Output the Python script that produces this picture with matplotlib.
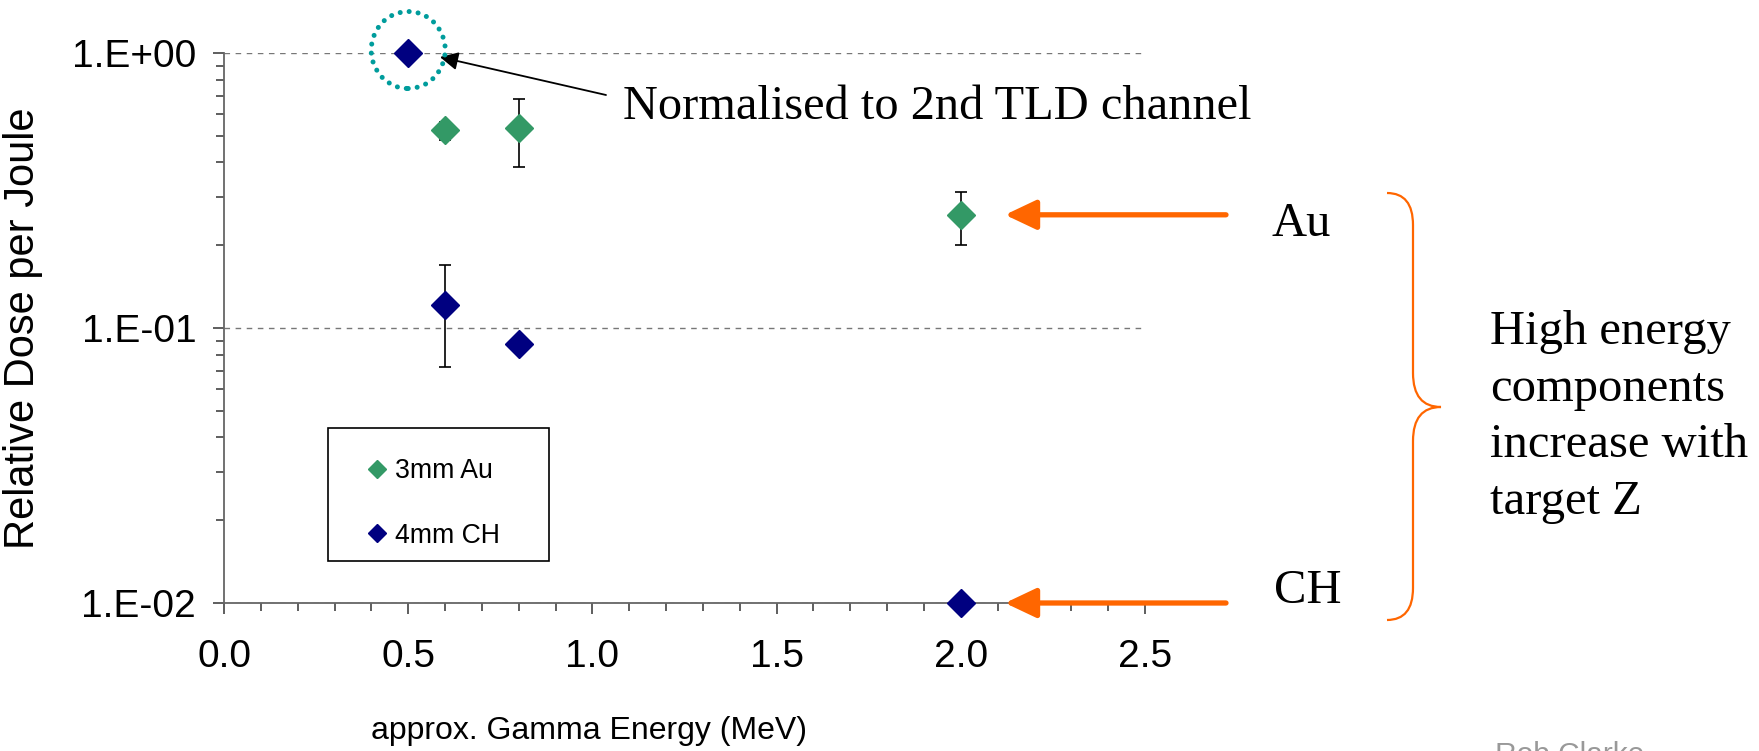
import numpy as np
import matplotlib
matplotlib.use("Agg")
import matplotlib.pyplot as plt
from matplotlib import ticker, transforms
from matplotlib.patches import Ellipse, PathPatch, Rectangle
from matplotlib.path import Path

# measured relative dose per joule vs approximate gamma energy
energy_au = [0.6, 0.8, 2.0]
dose_au = [0.525, 0.532, 0.258]
au_err_lo = [0.042, 0.146, 0.057]
au_err_hi = [0.036, 0.148, 0.053]

energy_ch = [0.5, 0.6, 0.8, 2.0]
dose_ch = [1.0, 0.121, 0.0875, 0.01]
ch_err_lo = [0.0, 0.049, 0.0, 0.0009]
ch_err_hi = [0.0, 0.0485, 0.0, 0.0]

labels = ["3mm Au", "4mm CH"]
x_ticks = [0.0, 0.5, 1.0, 1.5, 2.0, 2.5]
y_ticks = [0.01, 0.1, 1.0]

SANS = "Liberation Sans"
SERIF = "Liberation Serif"
GREEN = "#339966"
NAVY = "#000080"
ORANGE = "#ff6600"

W, H = 1759, 751
fig = plt.figure(figsize=(W / 100, H / 100), dpi=100)
ax = fig.add_axes([224 / W, 1 - 603 / H, 921 / W, 550 / H])


def fpx(x, y):
    # pixel position measured from the top-left corner -> figure pixels
    return (x, H - y)


ax.set_yscale("log")
ax.set_xlim(0, 2.5)
ax.set_ylim(0.01, 1.0)

ax.errorbar(energy_au, dose_au, yerr=[au_err_lo, au_err_hi], fmt="none",
            ecolor="black", elinewidth=1.2, capsize=4, capthick=1.2, zorder=2)
ax.errorbar(energy_ch, dose_ch, yerr=[ch_err_lo, ch_err_hi], fmt="none",
            ecolor="black", elinewidth=1.2, capsize=4, capthick=1.2, zorder=2)
ax.plot(energy_au, dose_au, "D", color=GREEN, ms=14.5, mec=GREEN, ls="none",
        label=labels[0], zorder=3, clip_on=False)
ax.plot(energy_ch, dose_ch, "D", color=NAVY, ms=14.5, mec=NAVY, ls="none",
        label=labels[1], zorder=3, clip_on=False)

# axes styling
for s in ["top", "right"]:
    ax.spines[s].set_visible(False)
for s in ["left", "bottom"]:
    ax.spines[s].set_color("#666666")
    ax.spines[s].set_linewidth(1.3)

ax.set_xticks(x_ticks)
ax.xaxis.set_minor_locator(ticker.MultipleLocator(0.1))
ax.xaxis.set_major_formatter(ticker.FormatStrFormatter("%.1f"))
ax.set_yticks(y_ticks)
ax.yaxis.set_minor_locator(ticker.LogLocator(base=10, subs=np.arange(2, 10)))
ax.yaxis.set_minor_formatter(ticker.NullFormatter())
ax.yaxis.set_major_formatter(
    ticker.FuncFormatter(lambda v, p: "1.E%+03d" % int(round(np.log10(v)))))
ax.tick_params(which="major", direction="out", length=8, width=1.1,
               color="#333333", labelsize=28, pad=12)
ax.tick_params(axis="x", which="major", pad=18)
ax.tick_params(which="minor", direction="out", length=5.5, width=1.1,
               color="#333333")
for lab in ax.get_xticklabels() + ax.get_yticklabels():
    lab.set_fontfamily(SANS)

ax.yaxis.grid(True, which="major", ls=(0, (4, 4)), color="#777777", lw=1)
ax.set_axisbelow(True)

ax.set_xlabel("approx. Gamma Energy (MeV)", fontsize=23, family=SANS)
ax.xaxis.set_label_coords((589 - 224) / 921, -(716 - 603) / 550)
ax.set_ylabel("Relative Dose per Joule", fontsize=30, family=SANS)
ax.yaxis.set_label_coords(-(224 - 43) / 921, 0.5)

# legend entries without their own frame, box drawn separately
leg = ax.legend(loc="upper left", bbox_to_anchor=(368 / W, 1 - 458 / H),
                bbox_transform=fig.transFigure, borderaxespad=0, borderpad=0,
                prop={"family": SANS, "size": 19.2}, markerscale=0.66,
                handlelength=0.7, handletextpad=0.3, labelspacing=1.45,
                frameon=False)
fig.add_artist(Rectangle((328 / W, 1 - 561 / H), 221 / W, 133 / H,
                         transform=fig.transFigure, fill=False,
                         edgecolor="black", lw=1.2))

# dotted ring around the reference point
ring_tf = fig.dpi_scale_trans + transforms.ScaledTranslation(
    energy_ch[0], dose_ch[0], ax.transData)
ring = Ellipse((0, 0.03), width=0.74, height=0.77, transform=ring_tf,
               fill=False, edgecolor="#009c9c", lw=3.6,
               ls=(0, (0.01, 1.8)), capstyle="round", clip_on=False)
fig.add_artist(ring)

ax.annotate("", xy=(0.586, 0.967), xycoords="data",
            xytext=fpx(606, 95), textcoords="figure pixels",
            arrowprops=dict(arrowstyle="-|>,head_length=1.1,head_width=0.55",
                            mutation_scale=10, color="black", lw=1.3,
                            shrinkA=0, shrinkB=0))
fig.text(623 / W, 1 - 119 / H, "Normalised to 2nd TLD channel",
         family=SERIF, fontsize=34.8, va="baseline", ha="left")

# orange pointers to the 2 MeV points
for y_val in [dose_au[-1], dose_ch[-1]]:
    ax.annotate("", xy=(2.12, y_val), xycoords="data",
                xytext=(1226, ax.transData.transform((0, y_val))[1]),
                textcoords="figure pixels",
                arrowprops=dict(arrowstyle="-|>,head_length=1.9,head_width=0.9",
                                mutation_scale=10, color=ORANGE, lw=3.8,
                                shrinkA=0, shrinkB=0), annotation_clip=False)
fig.text(1271 / W, 1 - 236 / H, "Au", family=SERIF, fontsize=35,
         va="baseline", ha="left")
fig.text(1274 / W, 1 - 603 / H, "CH", family=SERIF, fontsize=35,
         va="baseline", ha="left")

# curly brace
bx, bm, bt = 1387, 1413, 1441
y0, ymid, y1 = 193, 407, 620
verts = [
    (bx, y0), (bm, y0), (bm, y0 + 32),
    (bm, ymid - 34),
    (bm, ymid), (bt, ymid),
    (bm, ymid), (bm, ymid + 34),
    (bm, y1 - 32),
    (bm, y1), (bx, y1),
]
codes = [Path.MOVETO, Path.CURVE3, Path.CURVE3,
         Path.LINETO,
         Path.CURVE3, Path.CURVE3,
         Path.CURVE3, Path.CURVE3,
         Path.LINETO,
         Path.CURVE3, Path.CURVE3]
brace = Path([(x / W, 1 - y / H) for x, y in verts], codes)
fig.add_artist(PathPatch(brace, transform=fig.transFigure, fill=False,
                         edgecolor=ORANGE, lw=1.6))

# baseline of the last line
fig.text(1490 / W, 1 - 514 / H,
         "High energy\ncomponents\nincrease with\ntarget Z",
         family=SERIF, fontsize=35, va="baseline", ha="left",
         linespacing=1.37)

fig.text(1495 / W, 1 - 741 / H, "Rob Clarke", family=SANS, fontsize=21.5,
         color="#999999", va="top", ha="left")

fig.savefig("out.png", dpi=100)
